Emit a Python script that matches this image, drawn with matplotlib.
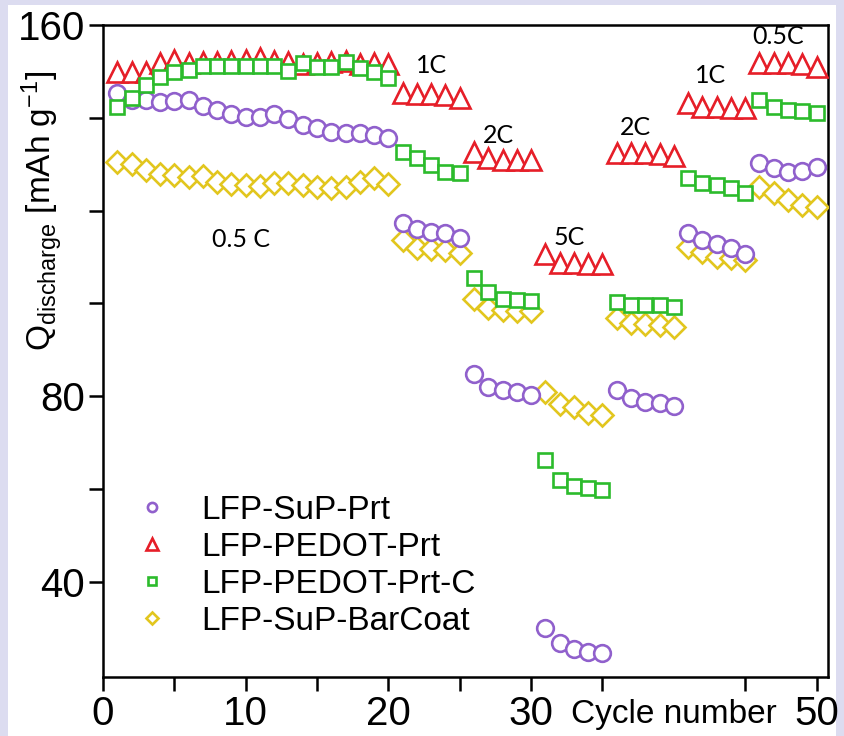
import matplotlib
matplotlib.use("Agg")
import matplotlib.pyplot as plt
from matplotlib.patches import Rectangle

# discharge capacity per cycle (mAh/g)
cycles = list(range(1, 51))

sup_prt = [145.3, 143.8, 143.8, 143.4, 143.6, 143.8, 142.5, 141.7, 140.8, 140.2,
           140.2, 140.8, 139.7, 138.4, 137.8, 136.9, 136.8, 136.8, 136.3, 135.6,
           117.3, 116.0, 115.4, 115.2, 114.1,
           84.8, 82.0, 81.3, 80.9, 80.3,
           30.0, 26.8, 25.5, 24.9, 24.6,
           81.3, 79.6, 78.7, 78.5, 77.9,
           115.2, 113.7, 112.8, 111.9, 110.6,
           130.3, 129.2, 128.3, 128.5, 129.4]

pedot_prt = [149.9, 149.9, 149.9, 151.8, 152.5, 151.8, 152.0, 152.0, 152.3, 152.5,
             152.8, 152.3, 152.0, 151.5, 151.8, 152.0, 152.3, 151.5, 151.8, 151.5,
             145.3, 145.2, 145.2, 145.0, 144.3,
             132.6, 131.3, 130.9, 130.9, 130.9,
             110.6, 108.7, 108.7, 108.5, 108.5,
             132.4, 132.4, 132.4, 132.2, 131.8,
             143.2, 142.3, 142.3, 142.2, 142.1,
             151.8, 151.8, 151.8, 151.6, 151.0]

pedot_prt_c = [142.3, 144.3, 147.1, 148.8, 149.9, 150.3, 151.2, 151.2, 151.2, 151.2,
               151.2, 151.2, 150.1, 151.8, 151.0, 151.0, 152.0, 150.7, 149.9, 148.6,
               132.6, 131.3, 129.8, 128.3, 128.1,
               105.5, 102.5, 101.0, 100.8, 100.6,
               66.3, 61.9, 60.6, 60.2, 59.8,
               100.3, 99.7, 99.7, 99.6, 99.2,
               127.0, 125.9, 125.5, 124.9, 123.8,
               143.8, 142.3, 141.7, 141.5, 141.0]

sup_barcoat = [130.5, 130.0, 128.7, 127.9, 127.7, 127.2, 127.4, 126.2, 125.7, 125.5,
               125.3, 125.9, 125.9, 125.5, 125.1, 124.9, 125.1, 126.2, 127.0, 125.7,
               113.7, 111.9, 111.7, 111.5, 110.9,
               101.0, 99.0, 98.6, 98.4, 98.4,
               80.9, 78.3, 77.7, 76.4, 75.9,
               96.9, 95.8, 95.6, 95.3, 94.9,
               112.2, 111.1, 110.0, 109.8, 109.4,
               125.1, 123.8, 122.3, 121.2, 120.8]

rate_labels = ["0.5 C", "1C", "2C", "5C", "2C", "1C", "0.5C"]
rate_x = [9.7, 23.0, 27.7, 32.7, 37.3, 42.6, 47.3]
rate_y = [113.7, 151.2, 136.3, 114.3, 138.0, 149.1, 157.6]

plt.rcParams["font.family"] = ["Liberation Sans", "DejaVu Sans"]
plt.rcParams["mathtext.fontset"] = "custom"
plt.rcParams["mathtext.rm"] = "Liberation Sans"
plt.rcParams["mathtext.it"] = "Liberation Sans:italic"

fig = plt.figure(figsize=(8.44, 7.36), dpi=100, facecolor="#dcdcf0")
# white sheet inside the lavender frame
fig.patches.append(Rectangle((8 / 844, 0), 828 / 844, 1 - 5 / 736,
                             transform=fig.transFigure, facecolor="white",
                             edgecolor="none", zorder=-10))
ax = fig.add_axes([0.122, 0.080, 0.859, 0.886])
ax.set_zorder(2)
ax.set_facecolor("white")

purple = "#9060cc"
red = "#e61e28"
green = "#2cbb2c"
yellow = "#e2c61e"
mw = 1.9

ax.plot(cycles, sup_barcoat, "D", ms=11, mfc="white", mec=yellow, mew=mw,
        linestyle="none", label="LFP-SuP-BarCoat", zorder=3)
ax.plot(cycles, pedot_prt, "^", ms=15, mfc="white", mec=red, mew=mw,
        linestyle="none", label="LFP-PEDOT-Prt", zorder=3)
ax.plot(cycles, sup_prt, "o", ms=12, mfc="white", mec=purple, mew=mw,
        linestyle="none", label="LFP-SuP-Prt", zorder=4)
ax.plot(cycles, pedot_prt_c, "s", ms=9.5, mfc="white", mec=green, mew=mw,
        linestyle="none", label="LFP-PEDOT-Prt-C", zorder=5)

for lab, x, y in zip(rate_labels, rate_x, rate_y):
    ax.text(x, y, lab, fontsize=18, family="Lato", ha="center", va="center", zorder=6)

ax.set_xlim(0, 50.8)
ax.set_ylim(19.5, 160)
ax.set_xticks([0, 5, 10, 15, 20, 25, 30, 35, 45, 50])
ax.set_xticklabels(["0", "", "10", "", "20", "", "30", "", "", "50"])
ax.set_yticks([40, 60, 80, 100, 120, 140, 160])
ax.set_yticklabels(["40", "", "80", "", "", "", "160"])
ax.tick_params(direction="out", length=10, width=1.8, labelsize=29, pad=3)
for sp in ax.spines.values():
    sp.set_linewidth(1.8)

ax.text(40, 19.5 - 8.0, "Cycle number", fontsize=24, ha="center", va="center")
ax.set_ylabel(r"Q$_{\mathrm{discharge}}$ [mAh g$^{\mathrm{-1}}$]", fontsize=24)
ax.yaxis.set_label_coords(-0.052, 0.715)

# legend entries in the order shown
handles, labels = ax.get_legend_handles_labels()
order = [2, 1, 3, 0]
leg = ax.legend([handles[i] for i in order], [labels[i] for i in order],
                loc="lower left", bbox_to_anchor=(0.012, 0.026), frameon=False,
                fontsize=24, markerscale=0.55, handlelength=1.0, handletextpad=1.0,
                labelspacing=0.18, borderpad=0.2)

fig.savefig("out.png", dpi=100, facecolor=fig.get_facecolor())
